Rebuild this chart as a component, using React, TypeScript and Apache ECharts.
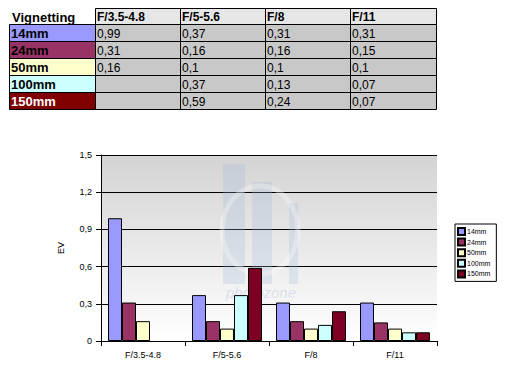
import React, { useEffect, useRef } from "react";
import * as echarts from "echarts";

const categories = ["F/3.5-4.8", "F/5-5.6", "F/8", "F/11"];
const seriesNames = ["14mm", "24mm", "50mm", "100mm", "150mm"];
const v14 = [0.99, 0.37, 0.31, 0.31];
const v24 = [0.31, 0.16, 0.16, 0.15];
const v50 = [0.16, 0.1, 0.1, 0.1];
const v100 = [null, 0.37, 0.13, 0.07];
const v150 = [null, 0.59, 0.24, 0.07];
const seriesValues = [v14, v24, v50, v100, v150];
const yTicks = ["0", "0,3", "0,6", "0,9", "1,2", "1,5"];

const chartColors = ["#9999ff", "#993366", "#ffffcc", "#ccffff", "#7d0024"];
const tableColors = ["#9999ff", "#993366", "#ffffcc", "#ccffff", "#800000"];
const tableTextColors = ["#000", "#000", "#000", "#000", "#fff"];

const colX = [9, 95, 180, 265, 350, 436];
const rowY = [8, 24, 41, 58, 75, 92, 109];
const FONT = "'Liberation Sans', Arial, sans-serif";

function fmt(v: number | null) {
  if (v === null) return "";
  return String(v).replace(".", ",");
}

function buildTable() {
  const els: any[] = [];
  els.push({
    type: "text",
    style: { x: colX[0] + 3, y: (rowY[0] + rowY[1]) / 2 + 1, text: "Vignetting", font: `bold 13px ${FONT}`, fill: "#000", verticalAlign: "middle" },
  });
  categories.forEach((c, i) => {
    els.push({
      type: "rect",
      shape: { x: colX[i + 1] + 0.5, y: rowY[0] + 0.5, width: colX[i + 2] - colX[i + 1], height: rowY[1] - rowY[0] },
      style: { fill: "#e6e6e6", stroke: "#000", lineWidth: 1 },
    });
    els.push({
      type: "text",
      style: { x: colX[i + 1] + 2, y: (rowY[0] + rowY[1]) / 2 + 1, text: c, font: `bold 12px ${FONT}`, fill: "#000", verticalAlign: "middle" },
    });
  });
  seriesNames.forEach((n, r) => {
    const y0 = rowY[r + 1];
    const y1 = rowY[r + 2];
    els.push({
      type: "rect",
      shape: { x: colX[0] + 0.5, y: y0 + 0.5, width: colX[1] - colX[0], height: y1 - y0 },
      style: { fill: tableColors[r], stroke: "#000", lineWidth: 1 },
    });
    els.push({
      type: "text",
      style: { x: colX[0] + 2, y: (y0 + y1) / 2 + 1, text: n, font: `bold 13px ${FONT}`, fill: tableTextColors[r], verticalAlign: "middle" },
    });
    categories.forEach((_, c) => {
      els.push({
        type: "rect",
        shape: { x: colX[c + 1] + 0.5, y: y0 + 0.5, width: colX[c + 2] - colX[c + 1], height: y1 - y0 },
        style: { fill: "#c8c8c8", stroke: "#000", lineWidth: 1 },
      });
      els.push({
        type: "text",
        style: { x: colX[c + 1] + 2, y: (y0 + y1) / 2 + 1, text: fmt(seriesValues[r][c]), font: `12px ${FONT}`, fill: "#000", verticalAlign: "middle" },
      });
    });
  });
  return els;
}

function buildWatermark() {
  const wm = "rgba(160,185,215,0.25)";
  return [
    { type: "rect", z: 1, silent: true, shape: { x: 223, y: 164, width: 22, height: 120 }, style: { fill: wm } },
    { type: "rect", z: 1, silent: true, shape: { x: 252, y: 182, width: 20, height: 102 }, style: { fill: wm } },
    { type: "rect", z: 1, silent: true, shape: { x: 289, y: 203, width: 9, height: 81 }, style: { fill: wm } },
    { type: "ellipse", z: 1, silent: true, shape: { cx: 260, cy: 230, rx: 38, ry: 44 }, style: { fill: "none", stroke: "rgba(255,255,255,0.3)", lineWidth: 5 } },
    { type: "text", z: 1, silent: true, style: { x: 261, y: 292, text: "photozone", font: `italic 15px ${FONT}`, fill: "rgba(165,185,215,0.35)", align: "center", verticalAlign: "middle" } },
  ];
}

export default function App() {
  const ref = useRef<HTMLDivElement>(null);
  useEffect(() => {
    if (!ref.current) return;
    const chart = echarts.init(ref.current, null, { renderer: "svg" });
    chart.setOption({
      animation: false,
      backgroundColor: "#ffffff",
      textStyle: { fontFamily: FONT },
      grid: {
        left: 101,
        top: 155,
        right: 68,
        bottom: 31,
        show: true,
        borderWidth: 0,
        backgroundColor: new echarts.graphic.LinearGradient(0, 0, 0, 1, [
          { offset: 0, color: "#d3d3d3" },
          { offset: 1, color: "#ffffff" },
        ]),
      },
      legend: {
        orient: "vertical",
        left: 455,
        top: 224,
        data: seriesNames,
        icon: "rect",
        itemWidth: 7,
        itemHeight: 7,
        itemGap: 1.6,
        borderColor: "#000",
        borderWidth: 1,
        padding: [3, 6, 3, 2],
        backgroundColor: "#fff",
        textStyle: { fontSize: 7, color: "#000", padding: [0, 0, 0, -3], lineHeight: 8 },
      },
      xAxis: {
        type: "category",
        data: categories,
        axisLine: { lineStyle: { color: "#000", width: 1 } },
        axisTick: { show: true, length: 5, lineStyle: { color: "#000" } },
        axisLabel: { fontSize: 9, color: "#000", margin: 9 },
      },
      yAxis: {
        type: "value",
        min: 0,
        max: 1.5,
        interval: 0.3,
        name: "EV",
        nameLocation: "middle",
        nameGap: 36,
        nameTextStyle: { fontSize: 9, color: "#000" },
        axisLine: { show: true, lineStyle: { color: "#000", width: 1 } },
        axisTick: { show: true, length: 5, lineStyle: { color: "#000" } },
        axisLabel: {
          fontSize: 9,
          color: "#000",
          margin: 9,
          formatter: (v: number) => yTicks[Math.round(v / 0.3)] ?? String(v),
        },
        splitLine: { show: true, lineStyle: { color: "#000", width: 1 } },
      },
      graphic: [...buildTable(), ...buildWatermark()],
      series: seriesNames.map((n, i) => ({
        name: n,
        type: "bar",
        data: seriesValues[i],
        barGap: "0%",
        barCategoryGap: "16.7%",
        itemStyle: { color: chartColors[i], borderColor: "#000", borderWidth: 1 },
        z: 3,
      })),
    });
    return () => chart.dispose();
  }, []);
  return (
    <div
      ref={ref}
      style={{ position: "fixed", left: 0, top: 0, width: 505, height: 372 }}
    />
  );
}
